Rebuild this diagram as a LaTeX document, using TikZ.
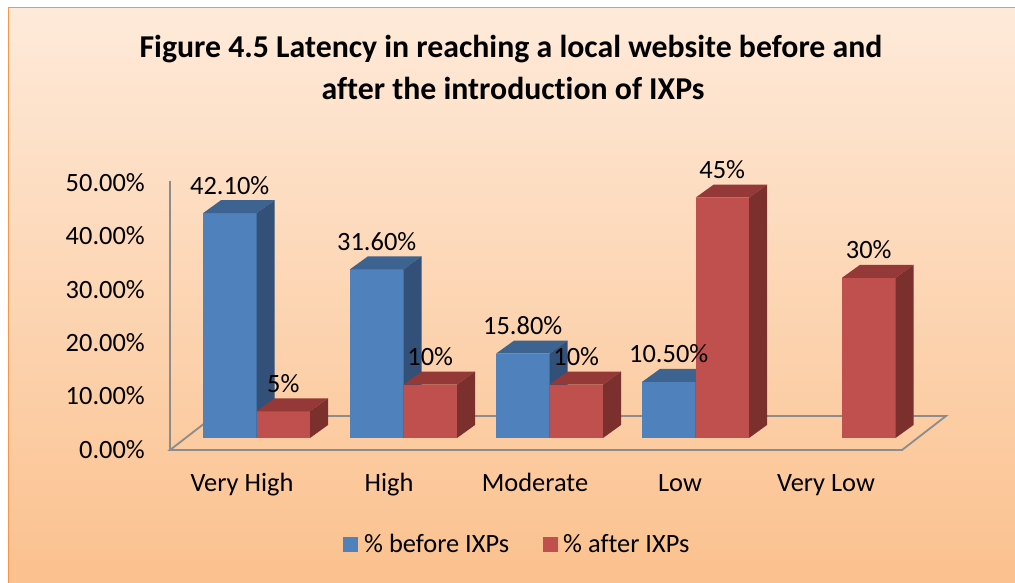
\documentclass[tikz,border=0pt]{standalone}
\usepackage{fontspec}
\setmainfont{Carlito}[RawFeature=-liga]
\definecolor{bgtop}{RGB}{254,234,218}
\definecolor{bgbot}{RGB}{251,192,140}
\definecolor{frameor}{RGB}{247,150,70}
\definecolor{floorgray}{RGB}{140,140,140}
\definecolor{bluefront}{RGB}{79,129,189}
\definecolor{bluetop}{RGB}{61,99,145}
\definecolor{blueside}{RGB}{50,80,120}
\definecolor{redfront}{RGB}{192,80,77}
\definecolor{redtop}{RGB}{148,57,55}
\definecolor{redside}{RGB}{124,48,46}
\newcommand\drawbar[3]{%
  \pgfmathsetmacro\bx{#1}%
  \pgfmathsetmacro\bt{438-5.34*#2}%
  \fill[#3front] (\bx,438) rectangle (\bx+53.5,\bt);
  \fill[#3top] (\bx,\bt) -- (\bx+18,\bt-13) -- (\bx+71.5,\bt-13) -- (\bx+53.5,\bt) -- cycle;
  \fill[#3side] (\bx+53.5,438) -- (\bx+53.5,\bt) -- (\bx+71.5,\bt-13) -- (\bx+71.5,425) -- cycle;
}
\tikzset{
  lbl/.style={inner sep=0pt, font=\fontsize{26.4}{30}\selectfont},
  ttl/.style={inner sep=0pt, font=\fontsize{31.8}{36}\selectfont\bfseries},
  floorline/.style={draw=floorgray, line width=1.8pt, line join=miter},
}
\begin{document}
\begin{tikzpicture}[x=1pt,y=-1pt]
\useasboundingbox (0,0) rectangle (1015,582);
\fill[white] (0,0) rectangle (1015,582);
\shade[top color=bgtop, bottom color=bgbot] (8.5,7.5) rectangle (1025,595);
\draw[frameor, line width=1.6pt] (8.5,600) -- (8.5,7.5) -- (1025,7.5);
% title
\node[ttl, anchor=base] (t1) at (511,57) {Figure 4.5 Latency in reaching a local website before and};
\node[ttl, anchor=base] (t2) at (513,99) {after the introduction of IXPs};
% floor and wall
\draw[floorline] (170,450) -- (902,450) -- (946,416) -- (214,416) -- cycle;
\draw[floorline] (170,181) -- (170,450);
% y labels
\foreach \v/\k in {0.00\%/0,10.00\%/1,20.00\%/2,30.00\%/3,40.00\%/4,50.00\%/5}{
  \node[lbl, anchor=base east] (y\k) at (145,458.3-53.4*\k) {\v};
}
% bars
\drawbar{203}{42.1}{blue}
\drawbar{256.5}{5}{red}
\drawbar{350}{31.6}{blue}
\drawbar{403.5}{10}{red}
\drawbar{496}{15.8}{blue}
\drawbar{549.5}{10}{red}
\drawbar{642}{10.5}{blue}
\drawbar{695.5}{45}{red}
\drawbar{842}{30}{red}
% data labels
\foreach \cx/\v/\t/\n in {229.75/42.1/42.10\%/d1, 283.25/5/5\%/d2, 376.75/31.6/31.60\%/d3, 430.25/10/10\%/d4, 522.75/15.8/15.80\%/d5, 576.25/10/10\%/d6, 668.75/10.5/10.50\%/d7, 722.25/45/45\%/d8, 868.75/30/30\%/d9}{
  \node[lbl, anchor=base] (\n) at (\cx,438-5.34*\v-19) {\t};
}
% category labels
\node[lbl, anchor=base] (c1) at (242,491) {Very High};
\node[lbl, anchor=base] (c2) at (389,491) {High};
\node[lbl, anchor=base] (c3) at (535,491) {Moderate};
\node[lbl, anchor=base] (c4) at (680,491) {Low};
\node[lbl, anchor=base] (c5) at (826,491) {Very Low};
% legend
\fill[bluefront] (343,537) rectangle (358,552);
\node[lbl, anchor=base west] (l1) at (364,552) {\% before IXPs};
\fill[redfront] (543,537) rectangle (558,552);
\node[lbl, anchor=base west] (l2) at (563,552) {\% after IXPs};
\end{tikzpicture}
\end{document}
